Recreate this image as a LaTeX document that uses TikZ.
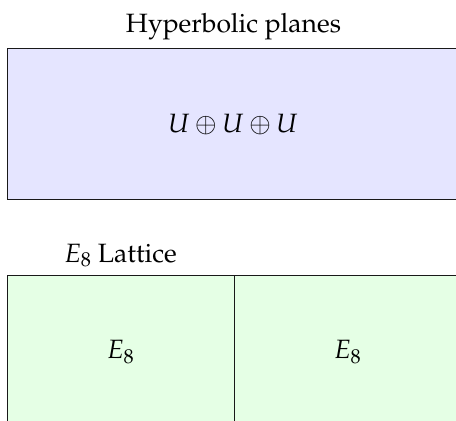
\documentclass[tikz,border=0pt]{standalone}
\usepackage[T1]{fontenc}
\usepackage{mathpazo}
\begin{document}
\begin{tikzpicture}[x=1pt,y=-1pt,
  lbl/.style={inner sep=0pt,font=\fontsize{26.5}{30}\selectfont},
  boxbase/.style={draw=black!90,line width=0.9pt,inner sep=0pt,anchor=north west},
  hypbox/.style={boxbase,fill=blue!10,minimum width=480pt,minimum height=151pt},
  ebox/.style={boxbase,fill=green!10,minimum height=170pt}]
\useasboundingbox (0,0) rectangle (456,421);
\clip (0,0) rectangle (456,421);
\node[lbl,anchor=base] (t1) at (233.5,32) {Hyperbolic planes};
\node[hypbox] (hyp) at (7,48) {};
\node[lbl] (hyptext) at (233,124) {$U\oplus U\oplus U$};
\node[lbl,anchor=base] (t2) at (120.5,262) {$E_8$ Lattice};
\node[ebox,minimum width=227pt] (e1) at (7,275) {};
\node[ebox,minimum width=260pt] (e2) at (234,275) {};
\node[lbl] (e1text) at (120.5,352) {$E_8$};
\node[lbl] (e2text) at (347.5,352) {$E_8$};
\end{tikzpicture}
\end{document}
